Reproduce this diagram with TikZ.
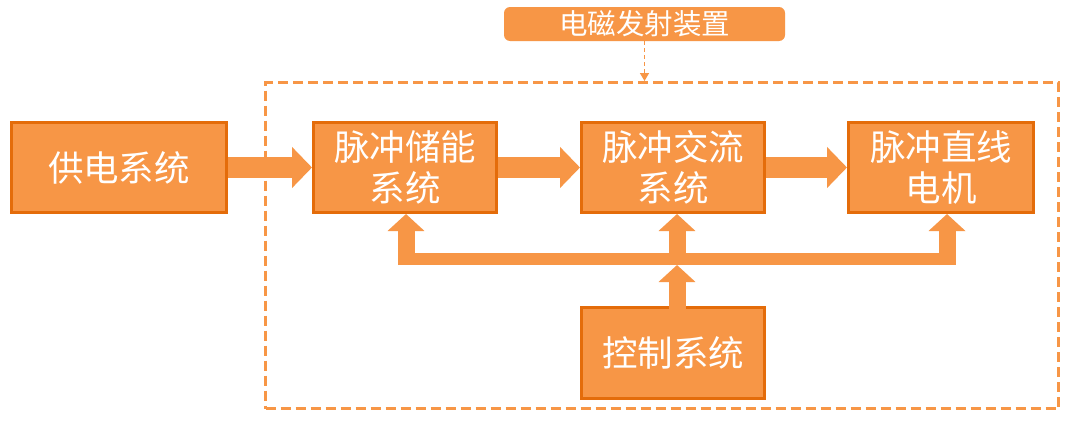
\documentclass[tikz,border=0pt]{standalone}
\usepackage{fontspec}
\setmainfont{Noto Sans CJK SC}
\usetikzlibrary{arrows.meta}
\definecolor{org}{HTML}{F79646}
\definecolor{orgd}{HTML}{E46C0A}
\begin{document}
\begin{tikzpicture}[x=1pt,y=-1pt,
  box/.style={draw=orgd, fill=org, line width=3pt, text=white,
    font=\fontsize{35.5}{41}\selectfont, align=center, inner sep=0pt,
    minimum height=90pt},
  harrow/.style={draw=org, line width=21pt, -{Triangle[length=20pt,width=40pt]}},
  varrow/.style={draw=org, line width=17pt, -{Triangle[length=17pt,width=36pt]}},
  framebox/.style={draw=org, line width=3pt, dash pattern=on 10pt off 5pt, inner sep=0pt},
  titlebox/.style={fill=org, rounded corners=6pt, text=white,
    font=\fontsize{28.5}{31}\selectfont, inner sep=0pt},
  thinarrow/.style={draw=org, line width=1.6pt, dash pattern=on 4pt off 3pt,
    -{Triangle[length=8pt,width=9pt]}}
  ]
\useasboundingbox (0,0) rectangle (1080,431);
\fill[white] (0,0) rectangle (1080,431);

\node[framebox, minimum width=793pt, minimum height=326pt] (frame) at (662,245.5) {};
\node[titlebox, minimum width=281pt, minimum height=34pt] (title) at (644.5,24) {电磁发射装置};
\draw[thinarrow] (title.south) -- (title.south |- frame.north);

\node[box, minimum width=215pt] (p0) at (119,167.5) {供电系统};
\node[box, minimum width=183pt] (b1) at (405,167.5) {脉冲储能\\系统};
\node[box, minimum width=183pt] (b2) at (673,167.5) {脉冲交流\\系统};
\node[box, minimum width=185pt] (b3) at (941,167.5) {脉冲直线\\电机};
\node[box, minimum width=183pt, minimum height=91pt] (ctrl) at (673,353) {控制系统};

\draw[harrow] (p0.east) -- (b1.west);
\draw[harrow] (b1.east) -- (b2.west);
\draw[harrow] (b2.east) -- (b3.west);

\coordinate (j1) at (406,265);
\coordinate (j2) at (677,265);
\coordinate (j3) at (947,265);
\coordinate (c2) at (677,309);
\fill[org] (397.5,253) rectangle (955.5,265);
\draw[varrow] (j1) -- (j1 |- b1.south);
\draw[varrow] (j2) -- (j2 |- b2.south);
\draw[varrow] (j3) -- (j3 |- b3.south);
\draw[varrow] (c2) -- (j2);
\end{tikzpicture}
\end{document}
